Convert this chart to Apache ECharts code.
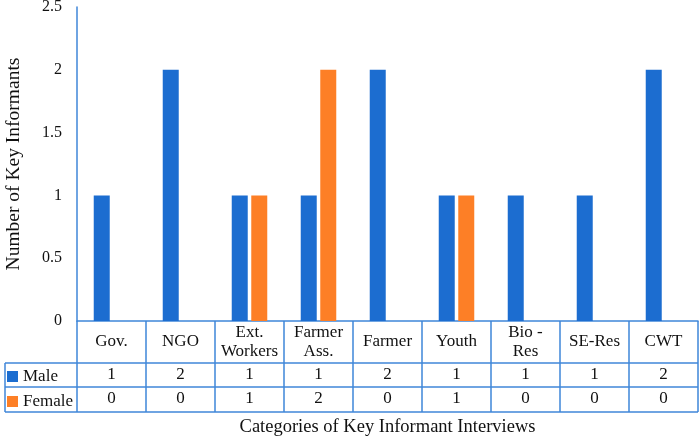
<!DOCTYPE html>
<html>
<head>
<meta charset="utf-8">
<script src="https://cdn.jsdelivr.net/npm/echarts@6/dist/echarts.min.js"></script>
<style>
  html, body { margin: 0; padding: 0; background: #fff; }
  #main { width: 699px; height: 438px; }
</style>
</head>
<body>
<div id="main"></div>
<script>
// 数据
var categories = ["Gov.", "NGO", "Ext.\nWorkers", "Farmer\nAss.", "Farmer", "Youth", "Bio -\nRes", "SE-Res", "CWT"];
var male = [1, 2, 1, 1, 2, 1, 1, 1, 2];
var female = [0, 0, 1, 2, 0, 1, 0, 0, 0];
var yTicks = [0, 0.5, 1, 1.5, 2, 2.5];

(function () {
  var font = "Liberation Serif";
  var lineColor = "#3f86d9";
  var mychart = echarts.init(document.getElementById("main"));

  // 表格下方的行值轴
  function rowAxis(values, offset) {
    return {
      type: "category",
      data: values.map(String),
      gridIndex: 0,
      position: "bottom",
      offset: offset,
      axisLine: { show: false },
      axisTick: { show: false },
      axisLabel: {
        interval: 0,
        margin: 12,
        verticalAlign: "middle",
        color: "#111",
        fontFamily: font,
        fontSize: 17,
      },
    };
  }

  var option = {
    animation: false,
    grid: { left: 77, right: 1, top: 7, bottom: 117, outerBoundsMode: "none" },
    legend: {
      orient: "vertical",
      left: 7,
      top: 368,
      padding: 0,
      itemWidth: 11,
      itemHeight: 11,
      itemGap: 8,
      icon: "rect",
      textStyle: { fontFamily: font, fontSize: 17, color: "#111", lineHeight: 16 },
      data: ["Male", "Female"],
    },
    xAxis: [
      {
        type: "category",
        data: categories,
        name: "Categories of Key Informant Interviews",
        nameLocation: "middle",
        nameGap: 106,
        nameTextStyle: { fontFamily: font, fontSize: 18.5, color: "#111", verticalAlign: "middle" },
        axisLine: { lineStyle: { color: lineColor, width: 1.5 } },
        // 刻度线当表格竖线
        axisTick: { show: true, length: 91, interval: 0, lineStyle: { color: lineColor, width: 1.5 } },
        axisLabel: {
          interval: 0,
          margin: 21,
          verticalAlign: "middle",
          lineHeight: 19,
          color: "#111",
          fontFamily: font,
          fontSize: 17,
        },
      },
      rowAxis(male, 42),
      rowAxis(female, 66),
    ],
    yAxis: {
      type: "value",
      min: yTicks[0],
      max: yTicks[yTicks.length - 1],
      interval: 0.5,
      name: "Number of Key Informants",
      nameLocation: "middle",
      nameGap: 53,
      nameTextStyle: { fontFamily: font, fontSize: 19.5, color: "#111" },
      axisLine: { show: true, lineStyle: { color: lineColor, width: 1.5 } },
      axisTick: { show: false },
      splitLine: { show: false },
      axisLabel: { margin: 15, color: "#111", fontFamily: font, fontSize: 16 },
    },
    series: [
      {
        name: "Male",
        type: "bar",
        data: male,
        barWidth: 16,
        barGap: "22%",
        itemStyle: { color: "#1c6dd0" },
      },
      {
        name: "Female",
        type: "bar",
        data: female,
        barWidth: 16,
        itemStyle: { color: "#fd7f26" },
      },
    ],
    // 表格横线
    graphic: [
      { type: "line", shape: { x1: 5, y1: 363, x2: 698, y2: 363 }, style: { stroke: lineColor, lineWidth: 1.5 } },
      { type: "line", shape: { x1: 5, y1: 387, x2: 698, y2: 387 }, style: { stroke: lineColor, lineWidth: 1.5 } },
      { type: "line", shape: { x1: 5, y1: 412, x2: 698, y2: 412 }, style: { stroke: lineColor, lineWidth: 1.5 } },
      { type: "line", shape: { x1: 5, y1: 363, x2: 5, y2: 412 }, style: { stroke: lineColor, lineWidth: 1.5 } },
    ],
  };
  mychart.setOption(option);
})();
</script>
</body>
</html>
